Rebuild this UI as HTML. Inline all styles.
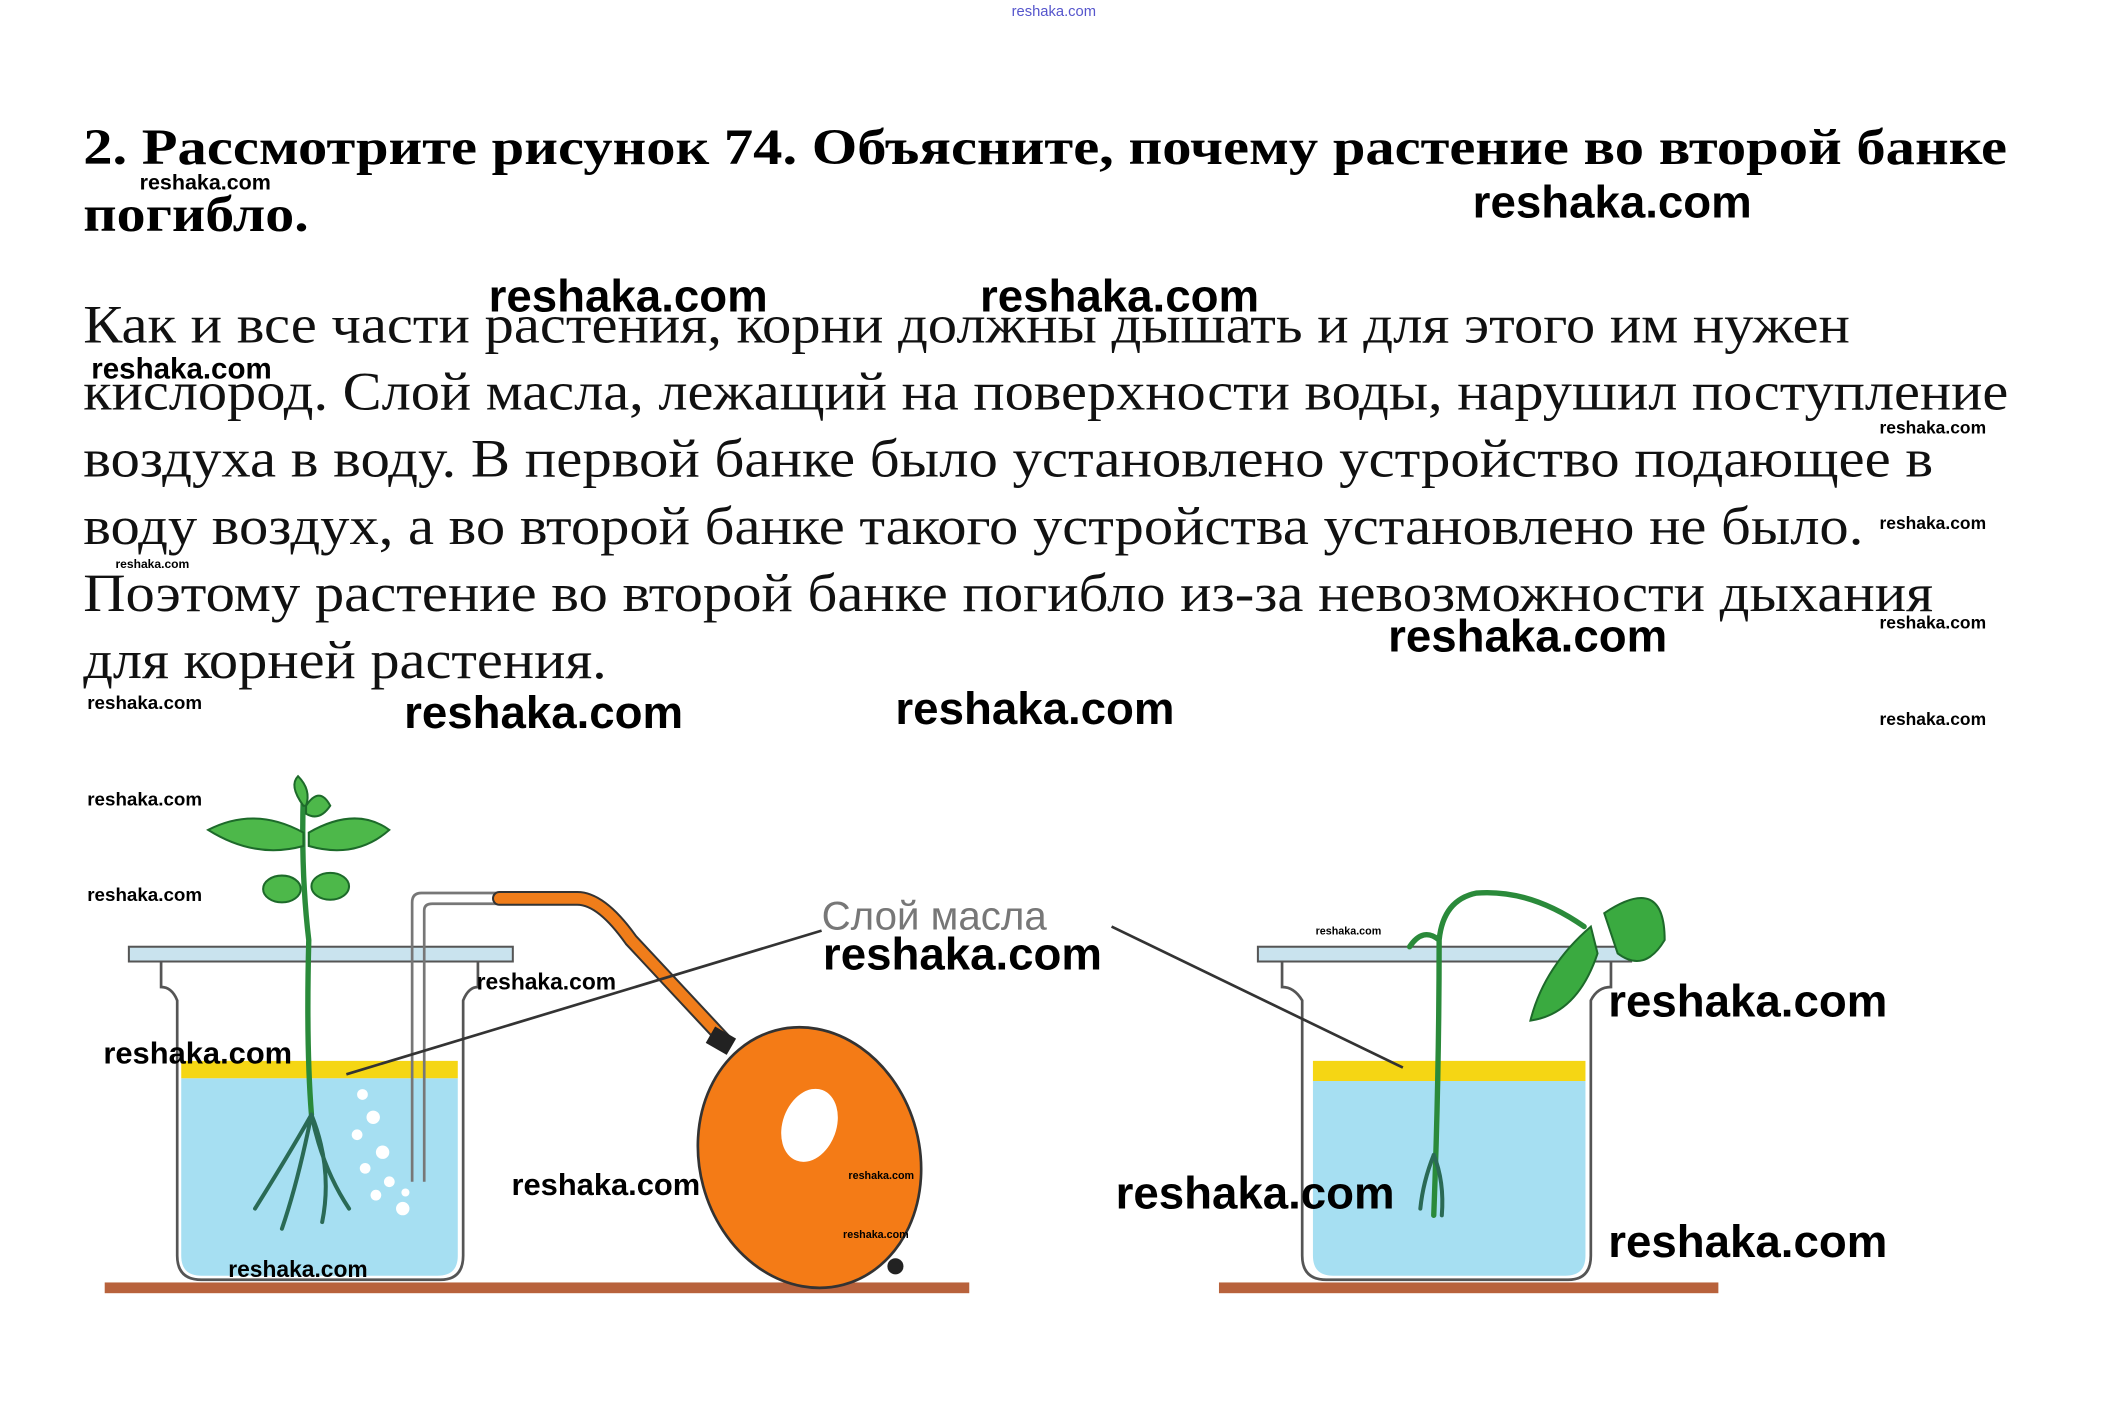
<!DOCTYPE html>
<html><head><meta charset="utf-8"><style>
html,body{margin:0;padding:0;background:#fff;}
body{width:2105px;height:1406px;overflow:hidden;}
svg{display:block;}
.h{font-family:"Liberation Serif",serif;font-weight:bold;font-size:38px;fill:#000;}
.p{font-family:"Liberation Serif",serif;font-size:40px;fill:#111;}
.w{font-family:"Liberation Sans",sans-serif;font-weight:bold;fill:#000;}
</style></head><body>
<svg width="2105" height="1406" viewBox="0 0 1568 1047" preserveAspectRatio="none">
<text x="785" y="12" font-family="Liberation Sans,sans-serif" font-size="11" fill="#55c" text-anchor="middle">reshaka.com</text>
<text class="h" x="62" y="122" textLength="1433" lengthAdjust="spacingAndGlyphs">2. Рассмотрите рисунок 74. Объясните, почему растение во второй банке</text>
<text class="h" x="62" y="172" textLength="168" lengthAdjust="spacingAndGlyphs">погибло.</text>
<g class="p">
<text x="62" y="255" textLength="1316" lengthAdjust="spacingAndGlyphs">Как и все части растения, корни должны дышать и для этого им нужен</text>
<text x="62" y="305" textLength="1434" lengthAdjust="spacingAndGlyphs">кислород. Слой масла, лежащий на поверхности воды, нарушил поступление</text>
<text x="62" y="355" textLength="1378" lengthAdjust="spacingAndGlyphs">воздуха в воду. В первой банке было установлено устройство подающее в</text>
<text x="62" y="405" textLength="1326" lengthAdjust="spacingAndGlyphs">воду воздух, а во второй банке такого устройства установлено не было.</text>
<text x="62" y="455" textLength="1378" lengthAdjust="spacingAndGlyphs">Поэтому растение во второй банке погибло из-за невозможности дыхания</text>
<text x="62" y="505" textLength="390" lengthAdjust="spacingAndGlyphs">для корней растения.</text>
</g>
<rect x="78" y="955" width="644" height="8" fill="#b8623c"/>
<rect x="908" y="955" width="372" height="8" fill="#b8623c"/>
<rect x="135" y="790" width="206" height="13" fill="#f5d614"/>
<path d="M135 803 H341 V935 Q341 950 326 950 H150 Q135 950 135 935 Z" fill="#a6dff2"/>
<path d="M120 716 V735 Q128 735 132 745 V935 Q132 953 150 953 H328 Q345 953 345 935 V745 Q349 735 356 735 V716" fill="none" stroke="#555" stroke-width="2"/>
<rect x="96" y="705" width="286" height="11" fill="#c9e3ee" stroke="#555" stroke-width="1.5"/>
<path d="M307 880 V672 Q307 665 314 665 H372 M316 880 V678 Q316 673 322 673 H372" fill="none" stroke="#777" stroke-width="2"/>
<g fill="#fff"><circle cx="270" cy="815" r="4"/><circle cx="278" cy="832" r="5"/><circle cx="266" cy="845" r="4"/><circle cx="285" cy="858" r="5"/><circle cx="272" cy="870" r="4"/><circle cx="290" cy="880" r="4"/><circle cx="280" cy="890" r="4"/><circle cx="300" cy="900" r="5"/><circle cx="302" cy="888" r="3"/></g>
<path d="M372 669 H430 Q448 669 470 700 L540 775" fill="none" stroke="#333" stroke-width="11" stroke-linecap="round"/>
<path d="M372 669 H430 Q448 669 470 700 L540 775" fill="none" stroke="#f07d1a" stroke-width="8" stroke-linecap="round"/>
<ellipse cx="603" cy="862" rx="82" ry="98" transform="rotate(-15 603 862)" fill="#f47b16" stroke="#333" stroke-width="2"/>
<ellipse cx="603" cy="838" rx="20" ry="28" transform="rotate(20 603 838)" fill="#fff"/>
<rect x="528" y="768" width="18" height="14" fill="#222" transform="rotate(30 537 775)"/>
<circle cx="667" cy="943" r="6" fill="#222"/>
<g fill="none" stroke="#2a8a3a" stroke-width="4" stroke-linecap="round">
<path d="M226 590 Q224 650 230 700 Q228 780 232 830"/>
<path d="M232 830 Q215 860 190 900 M232 830 Q240 870 260 900 M232 830 Q222 880 210 915 M232 830 Q248 870 240 910" stroke="#2a6a55" stroke-width="3"/>
</g>
<g fill="#4db84a" stroke="#1d6a2a" stroke-width="1.5">
<path d="M226 620 Q190 600 155 618 Q190 640 226 630Z"/><path d="M230 620 Q265 600 290 618 Q265 640 230 630Z"/>
<path d="M226 600 Q215 585 222 578 Q232 588 228 600Z"/><path d="M228 600 Q238 585 246 600 Q238 612 228 606Z"/>
<ellipse cx="210" cy="662" rx="14" ry="10"/><ellipse cx="246" cy="660" rx="14" ry="10"/>
</g>
<rect x="978" y="790" width="203" height="15" fill="#f5d614"/>
<path d="M978 805 H1181 V935 Q1181 950 1166 950 H993 Q978 950 978 935 Z" fill="#a6dff2"/>
<path d="M955 716 V735 Q964 735 970 745 V935 Q970 953 988 953 H1168 Q1185 953 1185 935 V745 Q1190 735 1200 735 V716" fill="none" stroke="#555" stroke-width="2"/>
<rect x="937" y="705" width="278" height="11" fill="#c9e3ee" stroke="#555" stroke-width="1.5"/>
<g fill="none" stroke="#2a8a3a" stroke-width="4" stroke-linecap="round">
<path d="M1068 905 Q1072 800 1072 700 Q1075 670 1100 665 Q1140 662 1180 690 M1072 700 Q1060 690 1050 705"/>
<path d="M1068 860 Q1060 880 1058 900 M1068 860 Q1076 880 1074 905" stroke="#2a6a55" stroke-width="3"/>
</g>
<g fill="#3aaa40" stroke="#1d6a2a" stroke-width="1.5">
<path d="M1185 690 Q1150 720 1140 760 Q1175 755 1190 710Z"/>
<path d="M1195 680 Q1240 650 1240 700 Q1225 725 1205 710Z"/>
</g>
<text x="612" y="692" font-family="Liberation Sans,sans-serif" font-size="30" fill="#777">Слой масла</text>
<path d="M612 693 L258 800 M828 690 L1045 795" stroke="#333" stroke-width="2"/>
<g class="w">
<text x="104" y="141" font-size="16">reshaka.com</text>
<text x="1097" y="162" font-size="34">reshaka.com</text>
<text x="364" y="232" font-size="34">reshaka.com</text>
<text x="730" y="232" font-size="34">reshaka.com</text>
<text x="68" y="282" font-size="22">reshaka.com</text>
<text x="1400" y="323" font-size="13">reshaka.com</text>
<text x="1400" y="394" font-size="13">reshaka.com</text>
<text x="86" y="423" font-size="9">reshaka.com</text>
<text x="1400" y="468" font-size="13">reshaka.com</text>
<text x="1034" y="485" font-size="34">reshaka.com</text>
<text x="65" y="528" font-size="14">reshaka.com</text>
<text x="301" y="542" font-size="34">reshaka.com</text>
<text x="667" y="539" font-size="34">reshaka.com</text>
<text x="1400" y="540" font-size="13">reshaka.com</text>
<text x="65" y="600" font-size="14">reshaka.com</text>
<text x="65" y="671" font-size="14">reshaka.com</text>
<text x="980" y="696" font-size="8">reshaka.com</text>
<text x="613" y="722" font-size="34">reshaka.com</text>
<text x="355" y="737" font-size="17">reshaka.com</text>
<text x="1198" y="757" font-size="34">reshaka.com</text>
<text x="77" y="792" font-size="23">reshaka.com</text>
<text x="381" y="890" font-size="23">reshaka.com</text>
<text x="632" y="878" font-size="8">reshaka.com</text>
<text x="831" y="900" font-size="34">reshaka.com</text>
<text x="628" y="922" font-size="8">reshaka.com</text>
<text x="1198" y="936" font-size="34">reshaka.com</text>
<text x="170" y="951" font-size="17">reshaka.com</text>
</g>
</svg>
</body></html>
